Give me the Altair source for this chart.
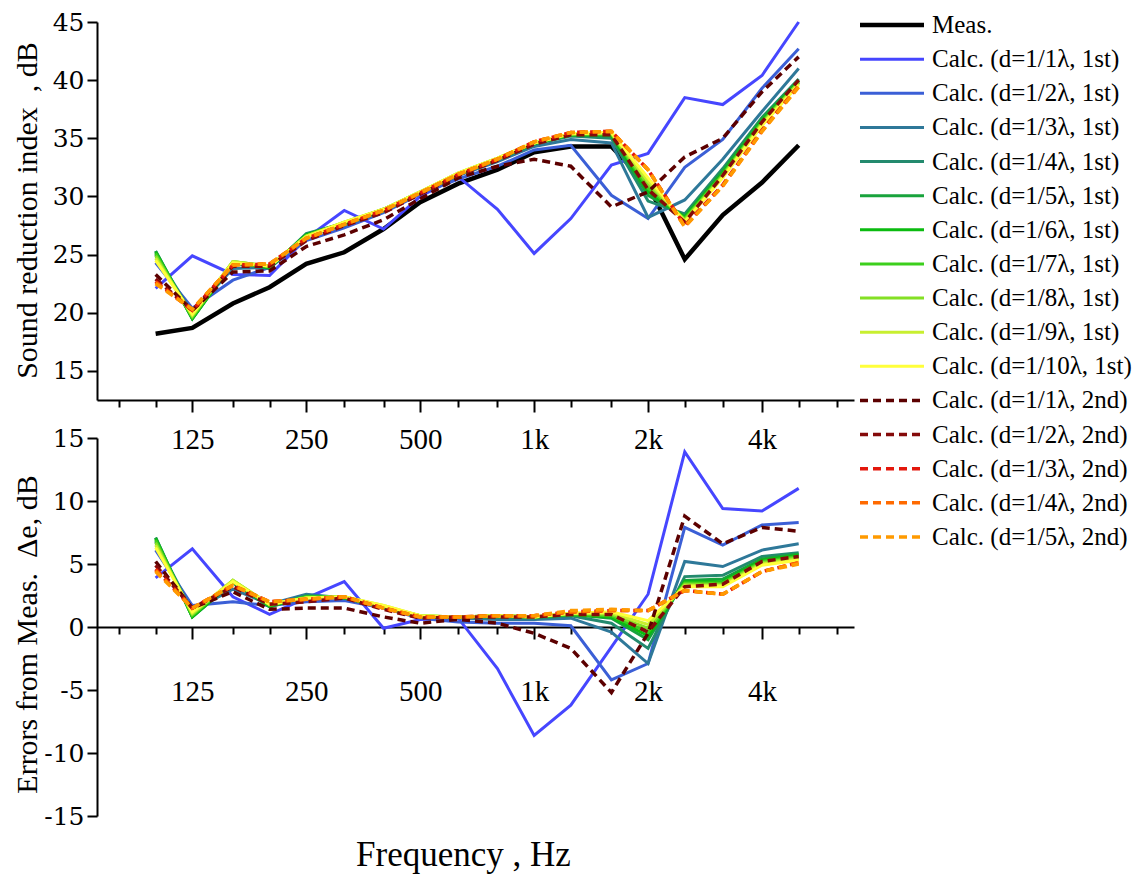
import altair as alt
import pandas as pd

# One-third octave band centre frequencies (Hz)
freqs = [100, 125, 160, 200, 250, 315, 400, 500, 630, 800, 1000, 1250, 1600, 2000, 2500, 3150, 4000, 5000]

# Sound reduction index, dB
meas = [18.2, 18.7, 20.8, 22.2, 24.2, 25.2, 27.2, 29.5, 31.1, 32.3, 33.8, 34.3, 34.3, 31.0, 24.6, 28.4, 31.2, 34.4]

r_1st_1 = [22.1, 24.9, 23.3, 23.2, 26.4, 28.8, 27.2, 30.0, 31.7, 28.9, 25.1, 28.1, 32.7, 33.7, 38.5, 37.9, 40.4, 45.0]
r_1st_2 = [24.3, 20.4, 22.8, 23.9, 26.2, 27.3, 28.6, 30.2, 31.5, 32.6, 34.0, 34.4, 30.1, 28.1, 32.5, 34.9, 39.3, 42.7]
r_1st_3 = [25.0, 20.0, 23.8, 23.9, 26.7, 27.5, 28.7, 30.3, 31.8, 33.0, 34.3, 34.9, 34.6, 28.2, 29.7, 33.2, 37.3, 41.0]
r_1st_4 = [25.3, 19.5, 24.3, 23.8, 26.8, 27.7, 28.8, 30.3, 31.9, 33.2, 34.5, 35.2, 35.0, 29.6, 28.5, 32.4, 36.8, 40.1]
r_1st_5 = [25.3, 19.5, 24.3, 23.9, 26.7, 27.7, 28.9, 30.3, 31.9, 33.2, 34.5, 35.3, 35.2, 30.1, 28.3, 32.2, 36.7, 40.0]
r_1st_6 = [25.2, 19.5, 24.3, 23.9, 26.7, 27.7, 28.9, 30.3, 31.9, 33.2, 34.6, 35.3, 35.3, 30.4, 28.2, 32.0, 36.5, 39.9]
r_1st_7 = [25.1, 19.6, 24.4, 24.0, 26.6, 27.7, 28.9, 30.4, 31.9, 33.2, 34.6, 35.3, 35.4, 30.7, 28.1, 31.9, 36.4, 39.8]
r_1st_8 = [24.9, 19.7, 24.4, 24.0, 26.6, 27.8, 28.9, 30.4, 32.0, 33.3, 34.6, 35.4, 35.4, 31.0, 28.0, 31.8, 36.3, 39.8]
r_1st_9 = [24.7, 19.8, 24.4, 24.0, 26.6, 27.8, 28.9, 30.4, 32.0, 33.3, 34.6, 35.4, 35.5, 31.3, 27.9, 31.7, 36.2, 39.7]
r_1st_10 = [24.5, 19.9, 24.3, 24.0, 26.5, 27.8, 28.9, 30.4, 32.0, 33.3, 34.6, 35.4, 35.5, 31.6, 27.8, 31.6, 36.1, 39.6]

r_2nd_1 = [23.3, 20.2, 23.5, 23.6, 25.7, 26.7, 28.0, 29.8, 31.6, 32.6, 33.2, 32.6, 29.1, 30.4, 33.4, 35.0, 39.0, 42.0]
r_2nd_2 = [22.9, 20.2, 24.0, 24.0, 26.2, 27.5, 28.6, 30.2, 31.8, 33.1, 34.5, 35.3, 35.3, 30.6, 27.8, 31.8, 36.4, 40.0]
r_2nd_3 = [22.7, 20.2, 24.1, 24.2, 26.4, 27.6, 28.8, 30.3, 31.9, 33.2, 34.7, 35.5, 35.6, 32.3, 27.5, 31.0, 35.7, 39.5]
r_2nd_4 = [22.6, 20.3, 24.1, 24.2, 26.4, 27.6, 28.8, 30.3, 31.9, 33.2, 34.7, 35.5, 35.6, 32.3, 27.4, 30.9, 35.6, 39.5]
r_2nd_5 = [22.5, 20.3, 24.1, 24.2, 26.4, 27.6, 28.8, 30.3, 31.9, 33.2, 34.7, 35.5, 35.6, 32.3, 27.4, 30.9, 35.6, 39.4]

# Errors from the measurement, dB
e_1st_1 = [3.9, 6.2, 2.4, 1.0, 2.3, 3.6, -0.1, 0.6, 0.7, -3.3, -8.6, -6.2, -1.6, 2.6, 13.9, 9.4, 9.2, 11.0]
e_1st_2 = [6.1, 1.7, 2.0, 1.7, 2.0, 2.1, 1.5, 0.7, 0.4, 0.3, 0.3, 0.1, -4.2, -2.9, 7.9, 6.5, 8.1, 8.3]
e_1st_3 = [6.8, 1.3, 3.0, 1.8, 2.6, 2.3, 1.5, 0.8, 0.7, 0.6, 0.6, 0.7, -0.4, -2.9, 5.2, 4.8, 6.1, 6.6]
e_1st_4 = [7.1, 0.8, 3.5, 1.6, 2.5, 2.3, 1.6, 0.8, 0.8, 0.8, 0.7, 0.9, 0.3, -1.7, 4.0, 4.1, 5.6, 5.9]
e_1st_5 = [7.1, 0.8, 3.6, 1.6, 2.4, 2.3, 1.6, 0.8, 0.8, 0.8, 0.8, 1.0, 0.7, -1.0, 3.7, 3.8, 5.4, 5.8]
e_1st_6 = [7.0, 0.8, 3.6, 1.7, 2.4, 2.3, 1.6, 0.8, 0.8, 0.9, 0.8, 1.0, 0.8, -0.7, 3.6, 3.6, 5.3, 5.7]
e_1st_7 = [6.9, 0.9, 3.7, 1.7, 2.4, 2.4, 1.6, 0.9, 0.8, 0.9, 0.8, 1.0, 0.9, -0.4, 3.5, 3.5, 5.2, 5.6]
e_1st_8 = [6.7, 1.0, 3.7, 1.8, 2.3, 2.4, 1.6, 0.9, 0.8, 0.9, 0.8, 1.1, 1.0, -0.1, 3.4, 3.4, 5.1, 5.5]
e_1st_9 = [6.5, 1.1, 3.7, 1.8, 2.3, 2.4, 1.7, 0.9, 0.8, 0.9, 0.8, 1.1, 1.1, 0.2, 3.3, 3.3, 5.0, 5.4]
e_1st_10 = [6.3, 1.2, 3.6, 1.8, 2.3, 2.4, 1.7, 0.9, 0.8, 0.9, 0.8, 1.1, 1.2, 0.5, 3.2, 3.2, 4.9, 5.3]

e_2nd_1 = [5.2, 1.5, 2.8, 1.4, 1.5, 1.5, 0.8, 0.3, 0.6, 0.3, -0.5, -1.7, -5.2, -0.5, 8.8, 6.6, 7.9, 7.6]
e_2nd_2 = [4.9, 1.5, 3.2, 1.8, 2.0, 2.3, 1.4, 0.7, 0.8, 0.8, 0.8, 1.0, 1.0, -0.4, 3.2, 3.4, 5.2, 5.6]
e_2nd_3 = [4.6, 1.5, 3.3, 2.0, 2.2, 2.4, 1.5, 0.8, 0.8, 0.9, 0.9, 1.2, 1.3, 1.3, 2.9, 2.6, 4.4, 5.1]
e_2nd_4 = [4.5, 1.5, 3.3, 2.0, 2.2, 2.4, 1.5, 0.8, 0.8, 0.9, 0.9, 1.2, 1.3, 1.3, 2.9, 2.6, 4.4, 5.1]
e_2nd_5 = [4.4, 1.5, 3.3, 2.0, 2.2, 2.4, 1.5, 0.8, 0.8, 0.9, 0.9, 1.3, 1.4, 1.3, 2.9, 2.6, 4.4, 5.0]

names_1st = [f"Calc. (d=1/{k}\u03bb, 1st)" for k in range(1, 11)]
names_2nd = [f"Calc. (d=1/{k}\u03bb, 2nd)" for k in range(1, 6)]
colors_1st = ["#4646ff", "#3b5fd6", "#2e7899", "#238a6e", "#18a33c", "#0bbb10",
              "#3ccf1c", "#84e024", "#c8ef30", "#ffff3a"]
colors_2nd = ["#5c0000", "#850a0a", "#e3170c", "#ff6a00", "#ff9a00"]

r_1st = [r_1st_1, r_1st_2, r_1st_3, r_1st_4, r_1st_5, r_1st_6, r_1st_7, r_1st_8, r_1st_9, r_1st_10]
r_2nd = [r_2nd_1, r_2nd_2, r_2nd_3, r_2nd_4, r_2nd_5]
e_1st = [e_1st_1, e_1st_2, e_1st_3, e_1st_4, e_1st_5, e_1st_6, e_1st_7, e_1st_8, e_1st_9, e_1st_10]
e_2nd = [e_2nd_1, e_2nd_2, e_2nd_3, e_2nd_4, e_2nd_5]

x_ticks = [80, 100, 125, 160, 200, 250, 315, 400, 500, 630, 800, 1000, 1250,
           1600, 2000, 2500, 3150, 4000, 5000, 6300]
r_ticks = [15 + 2.5 * i for i in range(13)]
e_ticks = [-15 + 2.5 * i for i in range(13)]


def long_table(names, series):
    rows = []
    for name, vals in zip(names, series):
        for f, v in zip(freqs, vals):
            rows.append({"f": f, "v": v, "series": name})
    return pd.DataFrame(rows)


df_meas = pd.DataFrame({"f": freqs, "v": meas})
df_r1 = long_table(names_1st, r_1st)
df_r2 = long_table(names_2nd, r_2nd)
df_e1 = long_table(names_1st, e_1st)
df_e2 = long_table(names_2nd, e_2nd)

all_names = ["Meas."] + names_1st + names_2nd
all_colors = ["#000000"] + colors_1st + colors_2nd
color_scale = alt.Scale(domain=all_names, range=all_colors)

SERIF = "Liberation Serif"
NB = "\u00a0"
LABEL_EXPR = ("indexof([125,250,500], datum.value) >= 0 ? toString(datum.value) : "
              "indexof([1000,2000,4000], datum.value) >= 0 ? toString(datum.value/1000) + 'k' : ''")
MAJOR_X = "indexof([125,250,500,1000,2000,4000], datum.value) >= 0"
MAJOR_Y = "datum.value % 5 == 0"

x_scale = alt.Scale(type="log", domain=[70, 7000], nice=False)


def x_axis(label_pad, offset=0, title=None):
    kw = dict(
        values=x_ticks, labelExpr=LABEL_EXPR, labelOverlap=False,
        tickSize={"condition": {"test": MAJOR_X, "value": 12}, "value": 7},
        tickColor="black", tickWidth=2, domainColor="black", domainWidth=2,
        labelFont=SERIF, labelFontSize=29, labelColor="black", labelPadding=label_pad,
        grid=False, offset=offset,
    )
    if title:
        kw.update(title=title, titleFont=SERIF, titleFontSize=35, titleFontWeight="normal",
                  titleColor="black", titleX=366, titleY=238, titleBaseline="alphabetic",
                  titleAlign="center")
    else:
        kw.update(title=None)
    return alt.Axis(**kw)


def y_axis(values, title, title_y):
    return alt.Axis(
        values=values, labelExpr="datum.value % 5 == 0 ? toString(datum.value) : ''",
        tickSize={"condition": {"test": MAJOR_Y, "value": 10}, "value": 5},
        tickColor="black", tickWidth=2, domainColor="black", domainWidth=2,
        labelFont="DejaVu Serif", labelFontSize=25, labelColor="black", labelPadding=3,
        grid=False, title=title, titleFont=SERIF, titleFontSize=30, titleFontWeight="normal",
        titleColor="black", titleAngle=-90, titleX=-70, titleY=title_y,
        titleAlign="center", titleBaseline="middle",
    )


W, H = 757, 378

# Upper panel: sound reduction index
ry = alt.Scale(domain=[12.5, 45], nice=False, zero=False)
top_meas = alt.Chart(df_meas).mark_line(color="black", strokeWidth=4.5).encode(
    x=alt.X("f:Q", scale=x_scale, axis=x_axis(13)),
    y=alt.Y("v:Q", scale=ry, axis=y_axis(r_ticks, f"Sound reduction index{NB}{NB}, dB", 188)),
)
top_1st = alt.Chart(df_r1).mark_line(strokeWidth=3).encode(
    x=alt.X("f:Q", scale=x_scale), y=alt.Y("v:Q", scale=ry),
    color=alt.Color("series:N", scale=color_scale, legend=None),
)
top_2nd = alt.Chart(df_r2).mark_line(strokeWidth=3.5, strokeDash=[8, 5]).encode(
    x=alt.X("f:Q", scale=x_scale), y=alt.Y("v:Q", scale=ry),
    color=alt.Color("series:N", scale=color_scale, legend=None),
)
top = alt.layer(top_meas, top_1st, top_2nd).properties(width=W, height=H)

# Lower panel: deviation from measurement
ey = alt.Scale(domain=[-15, 15], nice=False)
bot_title = f"Errors from Meas.{NB}{NB}\u0394e, dB"
bot_1st = alt.Chart(df_e1).mark_line(strokeWidth=3).encode(
    x=alt.X("f:Q", scale=x_scale, axis=x_axis(38, offset=-H / 2, title="Frequency , Hz")),
    y=alt.Y("v:Q", scale=ey, axis=y_axis(e_ticks, bot_title, 196)),
    color=alt.Color("series:N", scale=color_scale, legend=None),
)
bot_2nd = alt.Chart(df_e2).mark_line(strokeWidth=3.5, strokeDash=[8, 5]).encode(
    x=alt.X("f:Q", scale=x_scale), y=alt.Y("v:Q", scale=ey),
    color=alt.Color("series:N", scale=color_scale, legend=None),
)
bottom = alt.layer(bot_1st, bot_2nd).properties(width=W, height=H)

panels = alt.vconcat(top, bottom, spacing=38, bounds="flush").resolve_scale(y="independent")

# Hand-built legend column
legend_df = pd.DataFrame({
    "series": all_names,
    "row": list(range(len(all_names))),
    "kind": ["meas"] + ["1st"] * len(names_1st) + ["2nd"] * len(names_2nd),
})
ly = alt.Y("row:Q", axis=None,
           scale=alt.Scale(domain=[0, len(all_names) - 1], reverse=True, nice=False, zero=False))
lc = alt.Color("series:N", scale=color_scale, legend=None)
leg_meas = alt.Chart(legend_df).transform_filter("datum.kind == 'meas'").mark_rule(
    strokeWidth=4.5, yOffset=3).encode(x=alt.value(0), x2=alt.value(64), y=ly, color=lc)
leg_1st = alt.Chart(legend_df).transform_filter("datum.kind == '1st'").mark_rule(
    strokeWidth=3, yOffset=3).encode(x=alt.value(0), x2=alt.value(64), y=ly, color=lc)
leg_2nd = alt.Chart(legend_df).transform_filter("datum.kind == '2nd'").mark_rule(
    strokeWidth=3.5, strokeDash=[8, 5], yOffset=3).encode(
    x=alt.value(0), x2=alt.value(64), y=ly, color=lc)
leg_text = alt.Chart(legend_df).mark_text(
    align="left", baseline="middle", font=SERIF, fontSize=25, color="black", dy=3).encode(
    x=alt.value(72), y=ly, text="series:N")
legend = alt.layer(leg_meas, leg_1st, leg_2nd, leg_text).properties(width=270, height=512)

chart = alt.hconcat(panels, legend, spacing=3).resolve_scale(
    y="independent", color="shared"
).properties(
    padding={"left": 11, "top": 10, "right": 5, "bottom": 5},
    background="white",
).configure_view(stroke=None)

chart.save("out.html", embed_options={"renderer": "svg", "actions": False})
